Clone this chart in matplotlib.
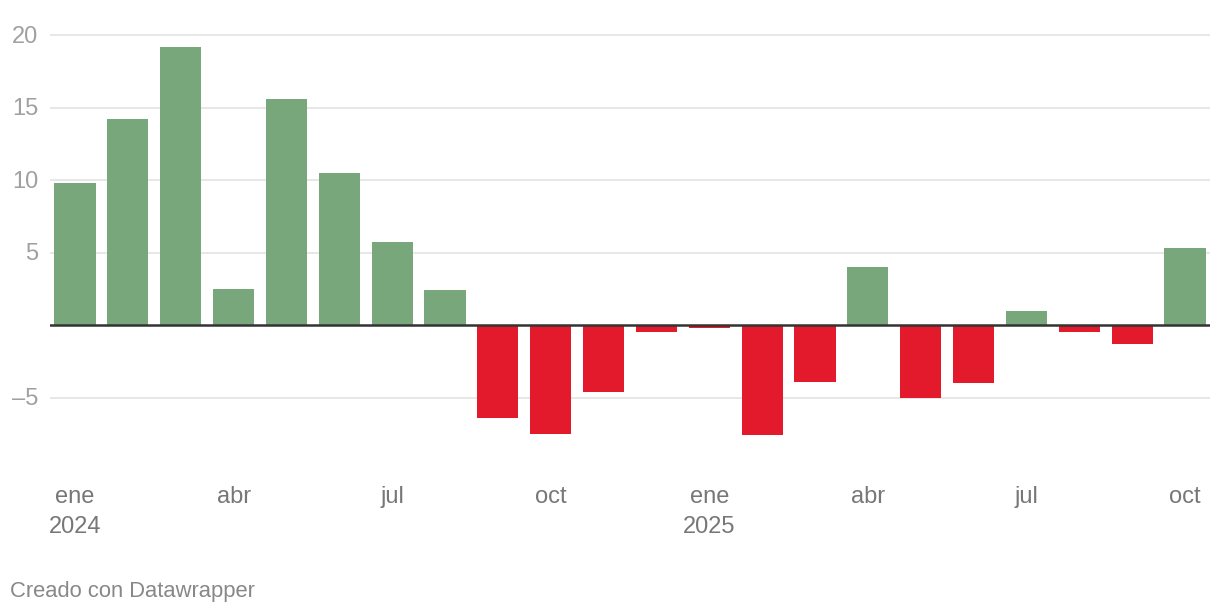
import numpy as np
import matplotlib.pyplot as plt

# datos mensuales ene 2024 - oct 2025
meses = ["ene", "feb", "mar", "abr", "may", "jun", "jul", "ago", "sep", "oct", "nov", "dic",
         "ene", "feb", "mar", "abr", "may", "jun", "jul", "ago", "sep", "oct"]
valores = [9.8, 14.2, 19.2, 2.5, 15.6, 10.5, 5.7, 2.4, -6.4, -7.5, -4.6, -0.5,
           -0.2, -7.6, -3.9, 4.0, -5.0, -4.0, 1.0, -0.5, -1.3, 5.3]
ticks_y = [-5, 5, 10, 15, 20]
etiquetas_x = {0: "ene\n2024", 3: "abr", 6: "jul", 9: "oct",
               12: "ene\n2025", 15: "abr", 18: "jul", 21: "oct"}

plt.rcParams['font.family'] = ['Liberation Sans', 'DejaVu Sans']

verde = "#79a77c"
rojo = "#e31a2c"

fig = plt.figure(figsize=(12.2, 6.14), dpi=100)
ax = fig.add_axes([50/1220, 0.2345, 1160/1220, 0.9666 - 0.2345])

x = np.arange(len(valores))
colores = [verde if v >= 0 else rojo for v in valores]

for t in ticks_y:
    ax.axhline(t, color="#e5e5e5", lw=1.3, zorder=0)
ax.bar(x, valores, width=0.78, color=colores, zorder=2)
ax.axhline(0, color="#333333", lw=1.8, zorder=3)

ax.set_xlim(-0.473, len(valores) - 1 + 0.473)
ax.set_ylim(-10, 21)

for s in ax.spines.values():
    s.set_visible(False)
ax.set_yticks([])
ax.set_xticks([])

# etiquetas del eje y
for t in ticks_y:
    lab = f"{t}".replace("-", "\u2013")
    ax.text(-0.473 - 12/52.86, t - 1.5/14.5, lab, ha="right", va="center",
            fontsize=17, color="#a0a0a0", transform=ax.transData)

# etiquetas del eje x
for i, lab in etiquetas_x.items():
    ax.text(i, -10 - 16/14.5, lab, ha="center", va="top", fontsize=17,
            color="#777777", linespacing=1.45)

fig.text(10/1220, 1 - 592/614, "Creado con Datawrapper", ha="left", va="center",
         fontsize=15.8, color="#888888")

fig.savefig("out.png", dpi=100)
